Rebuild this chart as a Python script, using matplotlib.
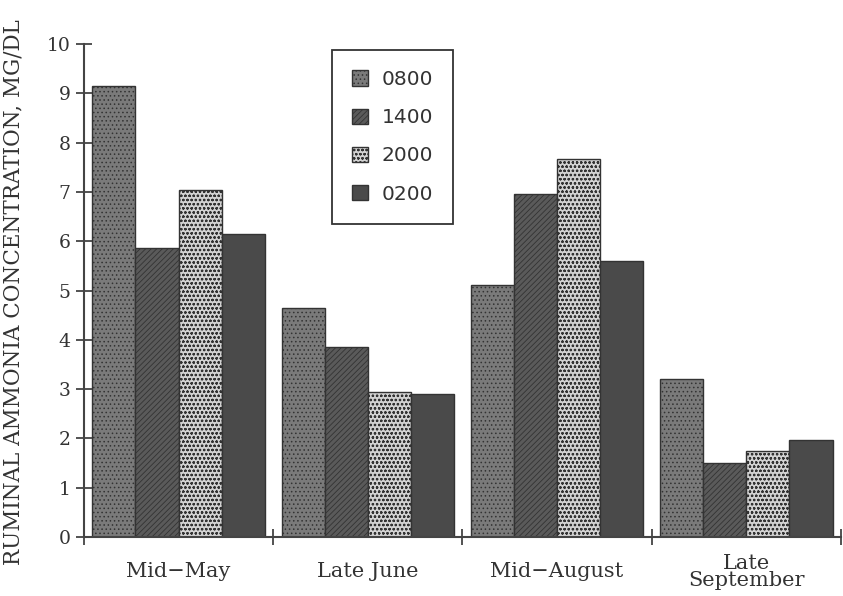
import numpy as np
import matplotlib.pyplot as plt

periods = ['Mid\u2212May', 'Late June', 'Mid\u2212August', 'Late\nSeptember']
times = ['0800', '1400', '2000', '0200']
v0800 = [9.15, 4.65, 5.12, 3.2]
v1400 = [5.87, 3.86, 6.95, 1.5]
v2000 = [7.04, 2.94, 7.67, 1.75]
v0200 = [6.14, 2.91, 5.6, 1.96]

series = [v0800, v1400, v2000, v0200]
faces = ['#7a7a7a', '#5a5a5a', '#d2d2d2', '#4a4a4a']
hatches = ['....', '//////', 'oooo', None]

plt.rcParams['hatch.linewidth'] = 0.6
plt.rcParams['font.family'] = 'DejaVu Serif'

fig = plt.figure(figsize=(8.43, 5.96), dpi=100)
ax = fig.add_axes([0.0996, 0.099, 0.898, 0.827])

x = np.arange(len(periods))
w = 0.228
start = 0.044
for i, vals in enumerate(series):
    ax.bar(x + start + i * w, vals, width=w, align='edge',
           facecolor=faces[i], edgecolor='#333333', linewidth=1.0,
           hatch=hatches[i], label=times[i])

ax.set_xlim(0, 4)
ax.set_ylim(0, 10)
ax.set_yticks(range(0, 11))
ax.set_xticks(range(0, 5))
ax.set_xticklabels([])
ax.set_xticks(x + 0.5, minor=True)
ax.set_xticklabels(periods, minor=True, fontsize=15, color='#333333',
                   linespacing=0.85, va='center')
ax.tick_params(axis='x', which='minor', length=0, pad=25)
ax.tick_params(axis='both', which='major', direction='inout', length=12,
               width=1.3, color='#444444', labelsize=13.5, labelcolor='#333333')

for s in ['top', 'right']:
    ax.spines[s].set_visible(False)
for s in ['left', 'bottom']:
    ax.spines[s].set_linewidth(1.5)
    ax.spines[s].set_color('#444444')

ax.set_ylabel('RUMINAL AMMONIA CONCENTRATION, MG/DL', fontsize=15.5,
              color='#333333')
ax.yaxis.set_label_coords(-0.078, 0.497)

leg = ax.legend(loc='upper left', bbox_to_anchor=(0.327, 0.988), borderaxespad=0,
                fancybox=False, edgecolor='#333333', framealpha=1,
                handlelength=0.8, handleheight=0.8, labelspacing=0.95,
                borderpad=1.0, handletextpad=0.7,
                prop={'family': 'DejaVu Sans', 'size': 14.5})
leg.get_frame().set_linewidth(1.3)
for t in leg.get_texts():
    t.set_color('#333333')

fig.savefig('out.png', dpi=100)
